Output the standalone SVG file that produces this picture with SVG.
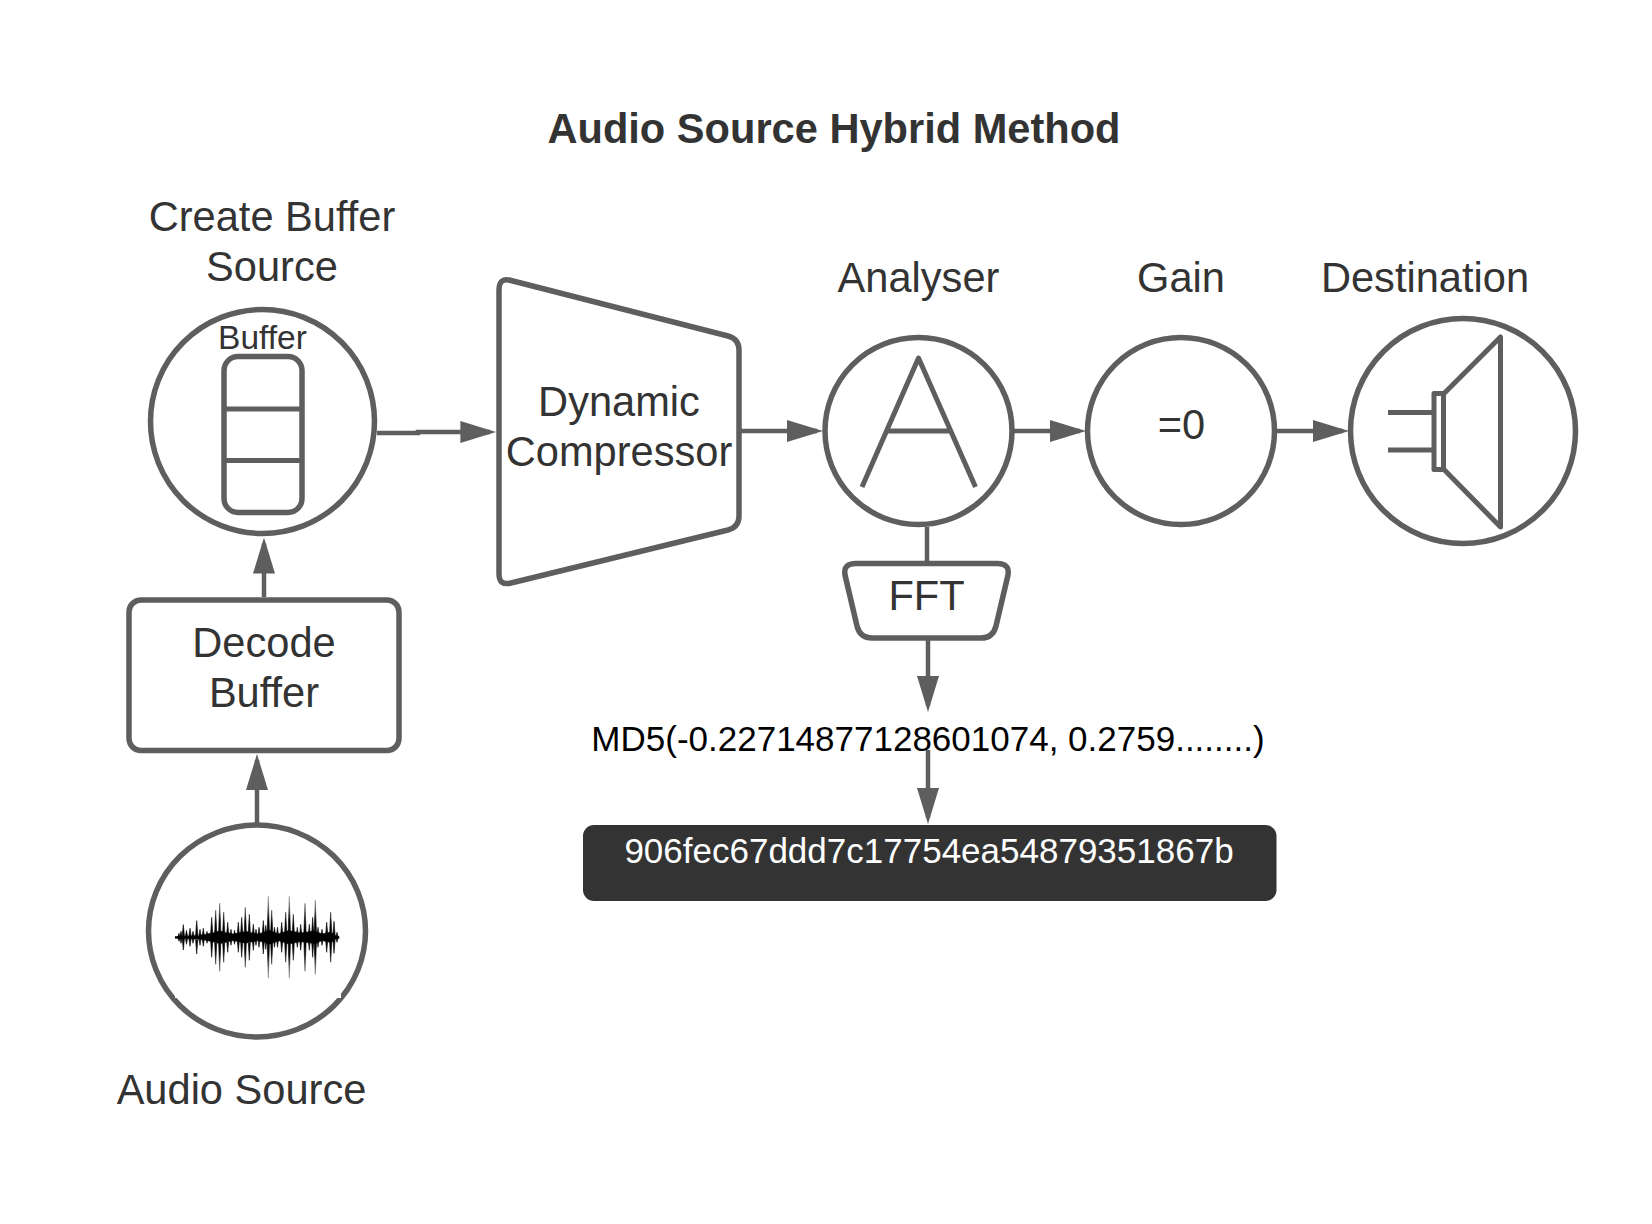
<svg xmlns="http://www.w3.org/2000/svg" width="1652" height="1224" viewBox="0 0 1652 1224">
<defs>
<style>
.s{fill:#fff;stroke:#5e5e5e;stroke-width:5.500;stroke-linejoin:round}
.l{fill:none;stroke:#5e5e5e;stroke-width:5;stroke-linejoin:round}
.c{fill:none;stroke:#5e5e5e;stroke-width:4.500}
.a{marker-end:url(#arrow)}
text{font-family:"Liberation Sans",Arial,sans-serif;font-size:41.600px;fill:#333;text-anchor:middle}
</style>
<marker id="arrow" markerUnits="userSpaceOnUse" markerWidth="36" markerHeight="22" refX="30" refY="11" orient="auto"><path d="M0 0L36 11L0 22Z" fill="#5e5e5e"/></marker>
<linearGradient id="wave" gradientUnits="userSpaceOnUse" x1="0" y1="896" x2="0" y2="979">
<stop offset="0" stop-color="#999"/><stop offset="0.3" stop-color="#000"/><stop offset="0.7" stop-color="#000"/><stop offset="1" stop-color="#999"/>
</linearGradient>
</defs>
<rect width="1652" height="1224" fill="#fff"/>
<text id="title" x="834" y="143" style="font-weight:700">Audio Source Hybrid Method</text>
<g id="buffer-source">
<ellipse class="s" cx="262.500" cy="421.500" rx="112" ry="112"/>
<rect class="s" x="224" y="356.500" width="78" height="156" rx="14"/>
<path class="l" d="M224 409H302M224 460.500H302"/>
<text x="262.500" y="349" style="font-size:33.500px">Buffer</text>
<text x="272" y="231">Create Buffer</text>
<text x="272" y="281">Source</text>
</g>
<g id="compressor">
<path class="s" d="M499 290Q499 277 511 280.500L728 336Q739 339 739 350L739 516Q739 527 728 530L511 583Q499 586 499 574Z"/>
<text x="619" y="416">Dynamic</text>
<text x="619" y="466">Compressor</text>
</g>
<g id="analyser">
<circle class="s" cx="918.500" cy="431" r="93.500"/>
<path class="l" d="M862 487L918.500 358L975.500 487M887.500 431H950.500"/>
<text x="918.500" y="292">Analyser</text>
</g>
<g id="gain">
<circle class="s" cx="1181" cy="431" r="93.500"/>
<text x="1181.500" y="438.500">=0</text>
<text x="1181" y="292">Gain</text>
</g>
<g id="destination">
<circle class="s" cx="1463" cy="431" r="112.500"/>
<path class="l" d="M1444 393.500L1500.500 337V527L1444 469.500"/>
<rect class="s" x="1434" y="393.500" width="9.500" height="76" style="stroke-width:5"/>
<path class="l" d="M1388 412.500H1434M1388 450H1434"/>
<text x="1425" y="292">Destination</text>
</g>
<g id="fft">
<path class="s" d="M856 563.500H997Q1010 563.500 1008 575L996 626Q993 638 981 638H872Q860 638 857 626L845 575Q843 563.500 856 563.500Z"/>
<text x="926.500" y="610">FFT</text>
</g>
<g id="md5">
<text x="928" y="751" style="font-size:35px;fill:#000">MD5(-0.22714877128601074, 0.2759........)</text>
</g>
<g id="hash">
<rect x="583" y="825" width="693.500" height="76" rx="11" fill="#333"/>
<text x="929" y="863" style="font-size:35px;fill:#fff">906fec67ddd7c17754ea54879351867b</text>
</g>
<g id="decode">
<rect class="s" x="129" y="600" width="270" height="150.500" rx="12"/>
<text x="264" y="657">Decode</text>
<text x="264" y="707">Buffer</text>
</g>
<g id="audio-source">
<ellipse class="s" cx="257" cy="931" rx="108.500" ry="106"/>
<rect x="175" y="870" width="166" height="128" fill="#fff"/>
<rect x="175" y="936.200" width="164.300" height="2.400" fill="#000"/>
<path fill="url(#wave)" stroke="url(#wave)" stroke-width="0.600" d="M177 937.300L205 934.500L220 931L233 934L246 931.500L258 934L270 930.500L278 934L289 930.500L300 933L315 931L322 934L331 932L338 937.300L331 942.600L322 940.600L315 943.600L300 941.600L289 944L278 940.600L270 944L258 940.600L246 943L233 940.600L220 943.600L205 940ZM177.700 937.300l1.300-4 1.300 4-1.300 4zM179.700 937.300l1.300-6 1.300 6-1.300 6zM182 937.300l1.300-12.700 1.300 12.700-1.300 12.700zM185.200 937.300l1.300-7 1.300 7-1.300 7zM188.700 937.300l1.300-9 1.300 9-1.300 9zM191.700 937.300l1.300-6 1.300 6-1.300 6zM195.400 937.300l1.300-16.700 1.300 16.700-1.300 16.700zM198.700 937.300l1.300-8 1.300 8-1.300 8zM202 937.300l1.300-9 1.300 9-1.300 9zM205.700 937.300l1.300-6 1.300 6-1.300 6zM210.400 937.300l1.300-20 1.300 20-1.300 20zM214.400 937.300l1.300-27 1.300 27-1.300 27zM218.400 937.300l1.300-34 1.300 34-1.300 34zM222.400 937.300l1.300-25 1.300 25-1.300 25zM226.400 937.300l1.300-15 1.300 15-1.300 15zM229.700 937.300l1.300-8 1.300 8-1.300 8zM233.200 937.300l1.300-7 1.300 7-1.300 7zM237 937.300l1.300-15 1.300 15-1.300 15zM240.400 937.300l1.300-20 1.300 20-1.300 20zM244 937.300l1.300-30 1.300 30-1.300 30zM248 937.300l1.300-23 1.300 23-1.300 23zM252 937.300l1.300-13 1.300 13-1.300 13zM254.700 937.300l1.300-8 1.300 8-1.300 8zM257.700 937.300l1.300-10 1.300 10-1.300 10zM262 937.300l1.300-16.700 1.300 16.700-1.300 16.700zM264.500 937.300l1.300-12 1.300 12-1.300 12zM267 937.300l1.300-41 1.300 41-1.300 41zM270.400 937.300l1.300-27 1.300 27-1.300 27zM273.200 937.300l1.300-10 1.300 10-1.300 10zM276.200 937.300l1.300-10 1.300 10-1.300 10zM280.400 937.300l1.300-15 1.300 15-1.300 15zM284.400 937.300l1.300-25 1.300 25-1.300 25zM288 937.300l1.300-41 1.300 41-1.300 41zM292 937.300l1.300-23 1.300 23-1.300 23zM296 937.300l1.300-10 1.300 10-1.300 10zM299.400 937.300l1.300-13 1.300 13-1.300 13zM303.700 937.300l1.300-34 1.300 34-1.300 34zM308 937.300l1.300-13 1.300 13-1.300 13zM311.400 937.300l1.300-20 1.300 20-1.300 20zM314 937.300l1.300-37 1.300 37-1.300 37zM316.700 937.300l1.300-10 1.300 10-1.300 10zM320.700 937.300l1.300-8 1.300 8-1.300 8zM325.400 937.300l1.300-15 1.300 15-1.300 15zM329.400 937.300l1.300-25 1.300 25-1.300 25zM332.700 937.300l1.300-16 1.300 16-1.300 16zM335.700 937.300l1.300-5 1.300 5-1.300 5z"/>
<text x="241.500" y="1104">Audio Source</text>
</g>
<g id="connectors">
<path class="c a" d="M377 433H418V432H490.400"/>
<path class="c a" d="M741 431H817"/>
<path class="c a" d="M1014 431H1080"/>
<path class="c a" d="M1277 431H1343"/>
<path class="c a" d="M264 597V543.500"/>
<path class="c a" d="M257 823V760"/>
<path class="c" d="M927 527V561"/>
<path class="c a" d="M928 640V706"/>
<path class="c a" d="M928 750V818"/>
</g>
</svg>
